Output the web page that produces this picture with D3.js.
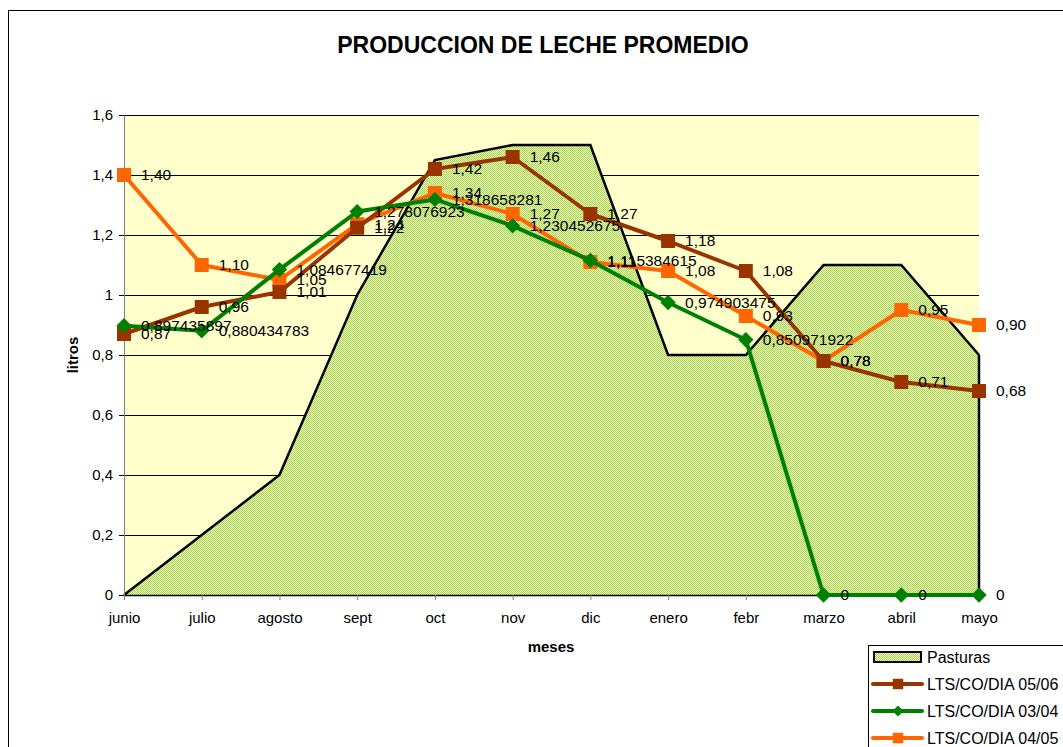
<!DOCTYPE html>
<html>
<head>
<meta charset="utf-8">
<script src="https://cdn.jsdelivr.net/npm/d3@7"></script>
<style>
  body { margin: 0; background: #fff; }
  svg { display: block; font-family: "Liberation Sans", Arial, sans-serif; }
</style>
</head>
<body>
<div id="chart"></div>
<script>
// meses
var months = ["junio","julio","agosto","sept","oct","nov","dic","enero","febr","marzo","abril","mayo"];
var yTicks = [0, 0.2, 0.4, 0.6, 0.8, 1, 1.2, 1.4, 1.6];

var pasturas = [0, 0.2, 0.4, 1.0, 1.45, 1.5, 1.5, 0.8, 0.8, 1.1, 1.1, 0.8];
var lts0506 = [0.87, 0.96, 1.01, 1.224, 1.42, 1.46, 1.27, 1.18, 1.08, 0.78, 0.71, 0.68];
var lts0304 = [0.897435897, 0.880434783, 1.084677419, 1.278076923, 1.318658281, 1.230452675,
               1.115384615, 0.974903475, 0.850971922, 0, 0, 0];
var lts0405 = [1.40, 1.10, 1.05, 1.236, 1.34, 1.27, 1.11, 1.08, 0.93, 0.78, 0.95, 0.90];

function display(){
  var width = 1063, height = 747;
  var pLeft = 124, pRight = 979, pTop = 115, pBottom = 595;

  var svg = d3.select("#chart").append("svg")
      .attr("width", width)
      .attr("height", height);

  // patron verde de pasturas
  var defs = svg.append("defs");
  var pat = defs.append("pattern")
      .attr("id", "past")
      .attr("width", 2).attr("height", 2)
      .attr("patternUnits", "userSpaceOnUse");
  pat.append("rect").attr("width", 2).attr("height", 2).attr("fill", "#eef8c8");
  pat.append("rect").attr("width", 1).attr("height", 1).attr("fill", "#a8d448");
  pat.append("rect").attr("x", 1).attr("y", 1).attr("width", 1).attr("height", 1).attr("fill", "#a8d448");

  // marco exterior
  svg.append("rect")
      .attr("x", 8.5).attr("y", 10.5)
      .attr("width", 1080).attr("height", 760)
      .attr("fill", "#fff")
      .attr("stroke", "#000").attr("stroke-width", 1);

  var x = d3.scalePoint().domain(months).range([pLeft, pRight]);
  var y = d3.scaleLinear().domain([0, 1.6]).range([pBottom, pTop]);

  // fondo del area de trazado
  svg.append("rect")
      .attr("x", pLeft).attr("y", pTop)
      .attr("width", pRight - pLeft).attr("height", pBottom - pTop)
      .attr("fill", "#ffffcc");

  // lineas de division
  svg.selectAll(".grid")
      .data(yTicks.filter(function(d){ return d > 0; }))
      .enter().append("line")
      .attr("x1", pLeft).attr("x2", pRight)
      .attr("y1", function(d){ return Math.round(y(d)) + 0.5; })
      .attr("y2", function(d){ return Math.round(y(d)) + 0.5; })
      .attr("stroke", "#000").attr("stroke-width", 1);

  // pasturas (area)
  var area = d3.area()
      .x(function(d, i){ return x(months[i]); })
      .y0(pBottom)
      .y1(function(d){ return y(d); });
  svg.append("path")
      .datum(pasturas)
      .attr("d", area)
      .attr("fill", "url(#past)");
  var pline = d3.line()
      .x(function(d, i){ return x(months[i]); })
      .y(function(d){ return y(d); });
  svg.append("path")
      .datum(pasturas)
      .attr("d", pline)
      .attr("fill", "none")
      .attr("stroke", "#000").attr("stroke-width", 2.5);
  svg.append("line")
      .attr("x1", pRight).attr("x2", pRight)
      .attr("y1", y(pasturas[11])).attr("y2", pBottom)
      .attr("stroke", "#000").attr("stroke-width", 2.5);

  // ejes
  var yAxis = d3.axisLeft(y).tickValues(yTicks).tickSize(5).tickPadding(6)
      .tickFormat(function(d){ return String(d).replace(".", ","); });
  var gy = svg.append("g").attr("transform", "translate(" + pLeft + ",0)").call(yAxis);
  gy.select(".domain").attr("stroke", "#808080");
  gy.selectAll(".tick line").attr("stroke", "#000");
  gy.selectAll("text").attr("font-size", 15).attr("fill", "#000")
      .attr("font-family", "Liberation Sans, Arial, sans-serif");

  var xAxis = d3.axisBottom(x).tickSize(5).tickPadding(12).tickSizeOuter(0);
  var gx = svg.append("g").attr("transform", "translate(0," + pBottom + ")").call(xAxis);
  gx.select(".domain").attr("stroke", "#000").attr("stroke-width", 1.5);
  gx.selectAll(".tick line").attr("stroke", "#808080");
  gx.selectAll("text").attr("font-size", 15).attr("fill", "#000")
      .attr("font-family", "Liberation Sans, Arial, sans-serif");

  // series
  var series = [
    {name: "LTS/CO/DIA 04/05", values: lts0405, color: "#ff6600", shape: "square", fmt: function(v){ return v.toFixed(2).replace(".", ","); }},
    {name: "LTS/CO/DIA 05/06", values: lts0506, color: "#993300", shape: "square", fmt: function(v){ return v.toFixed(2).replace(".", ","); }},
    {name: "LTS/CO/DIA 03/04", values: lts0304, color: "#008000", shape: "diamond", fmt: function(v){ return String(v).replace(".", ","); }}
  ];

  var line = d3.line()
      .x(function(d, i){ return x(months[i]); })
      .y(function(d){ return y(d); });

  var sqSym = d3.symbol().type(d3.symbolSquare).size(196);
  var diaSym = d3.symbol().type(d3.symbolDiamond2).size(150);

  series.forEach(function(s){
    var g = svg.append("g");
    g.append("path")
      .datum(s.values)
      .attr("d", line)
      .attr("fill", "none")
      .attr("stroke", s.color)
      .attr("stroke-width", 4)
      .attr("stroke-linejoin", "round");
    g.selectAll("path.mk")
      .data(s.values)
      .enter().append("path")
      .attr("class", "mk")
      .attr("d", s.shape === "square" ? sqSym : diaSym)
      .attr("transform", function(d, i){ return "translate(" + x(months[i]) + "," + y(d) + ")"; })
      .attr("fill", s.color);
  });

  // etiquetas de datos
  series.forEach(function(s){
    svg.append("g").selectAll("text")
      .data(s.values)
      .enter().append("text")
      .attr("x", function(d, i){ return x(months[i]) + 17; })
      .attr("y", function(d){ return y(d); })
      .attr("dy", "0.35em")
      .attr("font-size", 15.5)
      .attr("fill", "#000")
      .text(function(d){ return s.fmt(d); });
  });

  // titulos
  svg.append("text")
      .attr("x", 543).attr("y", 53)
      .attr("text-anchor", "middle")
      .attr("font-size", 23).attr("font-weight", "bold")
      .text("PRODUCCION DE LECHE PROMEDIO");

  svg.append("text")
      .attr("transform", "translate(78,355) rotate(-90)")
      .attr("text-anchor", "middle")
      .attr("font-size", 15).attr("font-weight", "bold")
      .text("litros");

  svg.append("text")
      .attr("x", 551).attr("y", 652)
      .attr("text-anchor", "middle")
      .attr("font-size", 15).attr("font-weight", "bold")
      .text("meses");

  // leyenda
  var legend = svg.append("g").attr("transform", "translate(868,645)");
  legend.append("rect")
      .attr("x", 0.5).attr("y", 0.5)
      .attr("width", 220).attr("height", 120)
      .attr("fill", "#fff").attr("stroke", "#000");

  var legItems = [
    {name: "Pasturas", type: "area"},
    {name: "LTS/CO/DIA 05/06", color: "#993300", shape: "square"},
    {name: "LTS/CO/DIA 03/04", color: "#008000", shape: "diamond"},
    {name: "LTS/CO/DIA 04/05", color: "#ff6600", shape: "square"}
  ];

  legItems.forEach(function(it, i){
    var cy = 12 + i * 27;
    var row = legend.append("g").attr("transform", "translate(0," + cy + ")");
    if (it.type === "area") {
      row.append("rect")
        .attr("x", 6).attr("y", -5).attr("width", 47).attr("height", 10)
        .attr("fill", "url(#past)").attr("stroke", "#000").attr("stroke-width", 2);
    } else {
      row.append("line")
        .attr("x1", 5).attr("x2", 54).attr("y1", 0).attr("y2", 0)
        .attr("stroke", it.color).attr("stroke-width", 4).attr("stroke-linecap", "round");
      row.append("path")
        .attr("d", it.shape === "square" ? d3.symbol().type(d3.symbolSquare).size(110)() : d3.symbol().type(d3.symbolDiamond2).size(80)())
        .attr("transform", "translate(30,0)")
        .attr("fill", it.color);
    }
    row.append("text")
      .attr("x", 59).attr("y", 0).attr("dy", "0.35em")
      .attr("font-size", 16)
      .text(it.name);
  });
}

display();
</script>
</body>
</html>
